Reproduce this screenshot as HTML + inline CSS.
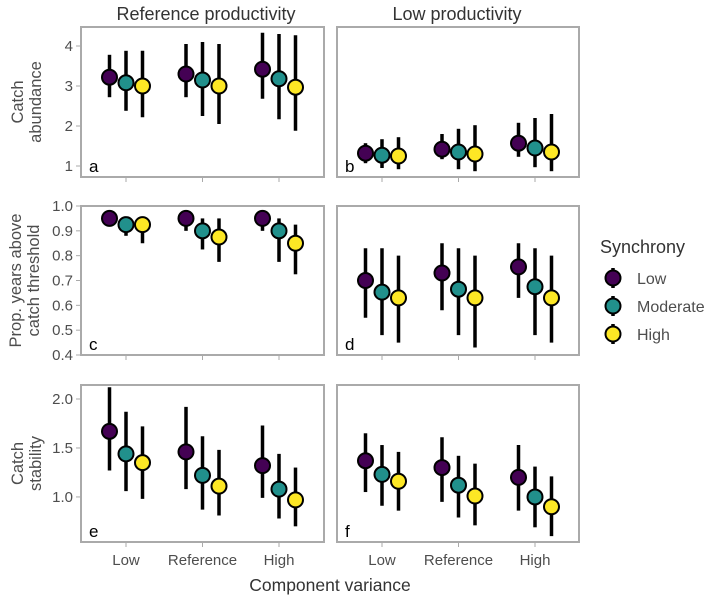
<!DOCTYPE html>
<html><head><meta charset="utf-8"><style>
body{margin:0;background:#fff;}
svg{display:block;font-family:"Liberation Sans",Arial,sans-serif;}
</style></head><body>
<svg id="chart" width="709" height="598" viewBox="0 0 709 598" xmlns="http://www.w3.org/2000/svg">
<g id="layer"></g>
</svg>
<script>
const groups = ["Low","Reference","High"];
const seriesNames = ["Low","Moderate","High"];
const colors = ["#440154","#21908C","#FDE725"];
// panel values: [group][series] = [mid, lo, hi]
const panelA = [[[3.22,2.72,3.78],[3.08,2.38,3.88],[3.0,2.22,3.88]],[[3.3,2.72,4.05],[3.15,2.25,4.1],[3.0,2.05,4.05]],[[3.42,2.68,4.33],[3.18,2.17,4.3],[2.97,1.88,4.27]]];
const panelB = [[[1.32,1.07,1.57],[1.27,0.95,1.67],[1.25,0.92,1.72]],[[1.42,1.17,1.8],[1.35,0.92,1.93],[1.3,0.87,2.02]],[[1.57,1.23,2.08],[1.45,0.97,2.2],[1.35,0.87,2.3]]];
const panelC = [[[0.95,0.95,0.95],[0.925,0.88,0.95],[0.925,0.85,0.95]],[[0.95,0.9,0.95],[0.9,0.825,0.95],[0.875,0.775,0.95]],[[0.95,0.9,0.95],[0.9,0.775,0.95],[0.85,0.725,0.925]]];
const panelD = [[[0.70,0.55,0.83],[0.653,0.48,0.83],[0.63,0.45,0.80]],[[0.73,0.58,0.85],[0.665,0.48,0.83],[0.63,0.43,0.80]],[[0.755,0.63,0.85],[0.675,0.48,0.83],[0.63,0.45,0.80]]];
const panelE = [[[1.67,1.27,2.12],[1.44,1.06,1.87],[1.35,0.98,1.72]],[[1.46,1.08,1.92],[1.22,0.87,1.62],[1.11,0.81,1.48]],[[1.32,0.99,1.73],[1.08,0.78,1.44],[0.97,0.70,1.30]]];
const panelF = [[[1.37,1.05,1.65],[1.23,0.91,1.53],[1.16,0.86,1.46]],[[1.30,0.95,1.61],[1.12,0.79,1.42],[1.01,0.71,1.34]],[[1.20,0.86,1.53],[1.0,0.69,1.31],[0.90,0.60,1.21]]];
const ticksRow1 = ["1","2","3","4"];
const ticksRow2 = ["0.4","0.5","0.6","0.7","0.8","0.9","1.0"];
const ticksRow3 = ["1.0","1.5","2.0"];

const NS="http://www.w3.org/2000/svg";
const layer=document.getElementById('layer');
function mk(tag,attrs,parent){const e=document.createElementNS(NS,tag);for(const k in attrs)e.setAttribute(k,attrs[k]);(parent||layer).appendChild(e);return e;}
function txt(s,attrs,parent){const e=mk('text',attrs,parent);e.textContent=s;return e;}

const cols=[{x0:81,x1:324},{x0:337,x1:579}];
const rows=[{y0:27,y1:177,vmin:0.725,vmax:4.475,ticks:ticksRow1,title:["Catch","abundance"]},
            {y0:206,y1:355,vmin:0.4,vmax:1.0,ticks:ticksRow2,title:["Prop. years above","catch threshold"]},
            {y0:385,y1:542,vmin:0.54,vmax:2.143,ticks:ticksRow3,title:["Catch","stability"]}];
const panels=[[panelA,panelB],[panelC,panelD],[panelE,panelF]];
const letters=[["a","b"],["c","d"],["e","f"]];

rows.forEach((r,ri)=>{
  const yS=v=>r.y1-(v-r.vmin)/(r.vmax-r.vmin)*(r.y1-r.y0);
  const cy=(r.y0+r.y1)/2;
  const t=txt('',{x:0,y:0,'font-size':16.5,fill:'#4d4d4d','text-anchor':'middle',transform:`translate(${ri==1?21:23},${cy}) rotate(-90)`});
  
  
  r.title.forEach((line,li)=>{const ts=document.createElementNS(NS,'tspan');ts.setAttribute('x',0);ts.setAttribute('dy',li==0?0:18);ts.textContent=line;t.appendChild(ts);});
  r.ticks.forEach(tk=>{
    const y=yS(parseFloat(tk));
    const l=mk('line',{x1:76,x2:80,y1:y,y2:y,stroke:'#aaa','stroke-width':1});
    
    
    const tl=txt(tk,{x:73,y:y+5,'font-size':15,fill:'#4d4d4d','text-anchor':'end'});
    
    
  });
  cols.forEach((c,ci)=>{
    const w=c.x1-c.x0;
    const xS=gi=>c.x0+45+gi*76.5;
    const rect=mk('rect',{x:c.x0,y:r.y0,width:w,height:r.y1-r.y0,fill:'#fff',stroke:'#aaa','stroke-width':2});
    
    
    groups.forEach((g,gi)=>{
      const x=xS(gi);
      const tm=mk('line',{x1:x,x2:x,y1:r.y1+1,y2:r.y1+5,stroke:'#aaa','stroke-width':1});
      
      
      if(ri==2){
        const xl=txt(g,{x:x,y:565,'font-size':15,fill:'#4d4d4d','text-anchor':'middle'});
        
        
      }
      panels[ri][ci][gi].forEach((d,si)=>{
        const px=x+(si-1)*16.5;
        const eb=mk('line',{x1:px,x2:px,y1:yS(d[1]),y2:yS(d[2]),stroke:'#000','stroke-width':3.5});
        
        
        const pt=mk('circle',{cx:px,cy:yS(d[0]),r:7.5,fill:colors[si],stroke:'#000','stroke-width':2});
        
        
      });
    });
    const lt=txt(letters[ri][ci],{x:c.x0+8,y:r.y1-5,'font-size':17,fill:'#000'});
    
    
  });
});
</script>
<script>
(function(){
const svg=document.getElementById('chart');
const NS="http://www.w3.org/2000/svg";
function t(s,a,name){const e=document.createElementNS(NS,'text');for(const k in a)e.setAttribute(k,a[k]);e.textContent=s;svg.appendChild(e);


return e;}
t("Reference productivity",{x:206,y:20,'font-size':18,fill:'#333','text-anchor':'middle'},'column-title-reference');
t("Low productivity",{x:457,y:20,'font-size':18,fill:'#333','text-anchor':'middle'},'column-title-low');
t("Component variance",{x:330,y:591,'font-size':17.5,fill:'#333','text-anchor':'middle'},'x-axis-title');
t("Synchrony",{x:600,y:253,'font-size':18,fill:'#333'},'legend-title');
const labs=["Low","Moderate","High"],cols=["#440154","#21908C","#FDE725"];
labs.forEach((l,i)=>{
  const y=278+i*28;
  const ln=document.createElementNS(NS,'line');
  ln.setAttribute('x1',613);ln.setAttribute('x2',613);ln.setAttribute('y1',y-10);ln.setAttribute('y2',y+10);ln.setAttribute('stroke','#000');ln.setAttribute('stroke-width',3.5);
  svg.appendChild(ln);
  
  
  const c=document.createElementNS(NS,'circle');
  c.setAttribute('cx',613);c.setAttribute('cy',y);c.setAttribute('r',7.5);c.setAttribute('fill',cols[i]);c.setAttribute('stroke','#000');c.setAttribute('stroke-width',2);
  svg.appendChild(c);
  
  
  t(l,{x:637,y:y+6,'font-size':16,fill:'#4d4d4d'},'legend-label');
});
})();
</script>
</body></html>
